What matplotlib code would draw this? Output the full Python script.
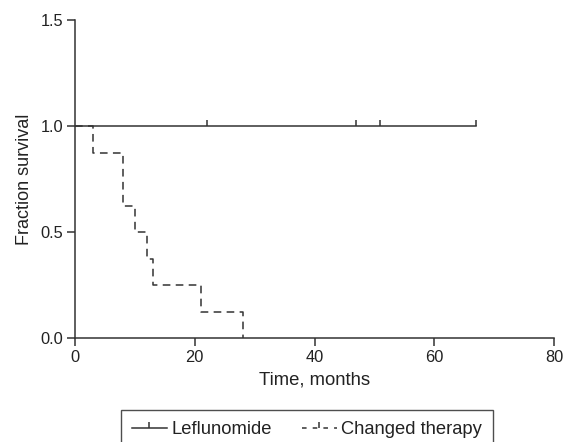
import matplotlib
matplotlib.use("Agg")
import matplotlib.pyplot as plt
from matplotlib.path import Path
from matplotlib.lines import Line2D

plt.rcParams['font.family'] = ['Liberation Sans', 'DejaVu Sans']

# Data
lef_times = [0, 67]
lef_surv = [1.0, 1.0]
lef_censor = [22, 47, 51, 67]

chg_times = [0, 3, 8, 10, 12, 13, 21, 28]
chg_surv = [1.0, 0.875, 0.625, 0.5, 0.375, 0.25, 0.125, 0.0]

xticks = [0, 20, 40, 60, 80]
yticks = [0.0, 0.5, 1.0, 1.5]

col = '#333333'
txtcol = '#222222'
up_tick = Path([(0, 0), (0, 1)], [Path.MOVETO, Path.LINETO])

fig = plt.figure(figsize=(5.63, 4.42), dpi=100)
ax = fig.add_axes([75/563, 1-338/442, 479/563, 318/442])

ax.step(lef_times, lef_surv, where='post', color=col, lw=1.1)
ax.plot(lef_censor, [1.0]*len(lef_censor), linestyle='none', marker=up_tick,
        markersize=9, markeredgewidth=1.1, color=col)
ax.step(chg_times, chg_surv, where='post', color=col, lw=1.1, dashes=(5, 3.5))

ax.set_xlim(0, 80)
ax.set_ylim(0, 1.5)
ax.set_xticks(xticks)
ax.set_xticklabels([str(t) for t in xticks])
ax.set_yticks(yticks)
ax.set_yticklabels([f"{t:.1f}" for t in yticks])
for s in ['top', 'right']:
    ax.spines[s].set_visible(False)
for s in ['left', 'bottom']:
    ax.spines[s].set_color(col)
    ax.spines[s].set_linewidth(1.1)
ax.tick_params(colors=col, labelcolor=txtcol, labelsize=11.8, length=6, width=1.1, pad=2.5)
ax.set_xlabel('Time, months', fontsize=13.3, labelpad=5, color=txtcol)
ax.set_ylabel('Fraction survival', fontsize=13, labelpad=5, color=txtcol)

h1 = Line2D([0], [0], color=col, lw=1.1, marker=up_tick, markersize=8,
            markeredgewidth=1.1)
h2 = Line2D([0], [0], color=col, lw=1.1, dashes=(3, 4), marker=up_tick,
            markersize=8, markeredgewidth=1.1)
leg = fig.legend([h1, h2], ['Leflunomide', 'Changed therapy'], ncol=2,
                 loc='upper left', bbox_to_anchor=(121/563, 1-410/442, 372/563, 0),
                 mode='expand', frameon=True, fancybox=False, fontsize=13.2,
                 handlelength=1.9, handletextpad=0.25, columnspacing=1.5,
                 borderpad=0.6, borderaxespad=0, numpoints=1)
leg.get_frame().set_edgecolor('#222222')
leg.get_frame().set_linewidth(1.0)
for t in leg.get_texts():
    t.set_color(txtcol)

fig.savefig('out.png', dpi=100)
